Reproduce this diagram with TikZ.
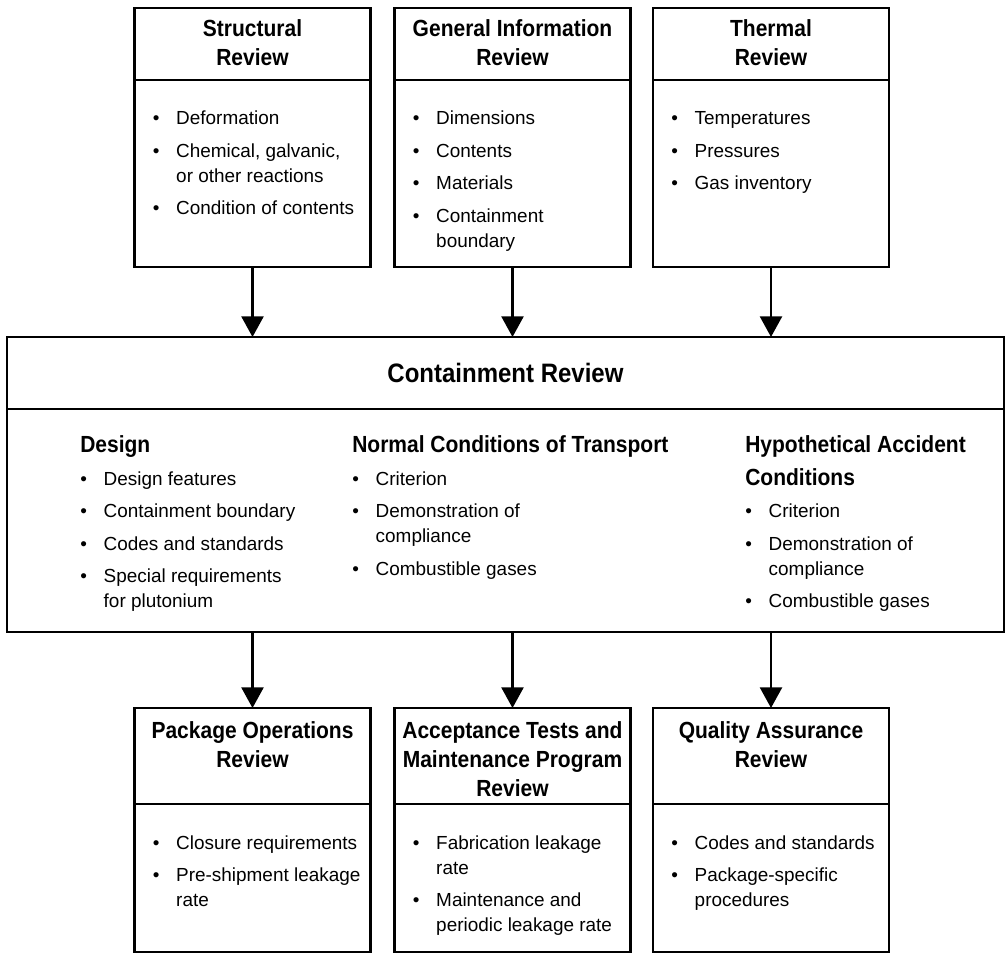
\documentclass[tikz,border=0pt]{standalone}
\usepackage{fontspec}
\setmainfont{Liberation Sans}[BoldFeatures={FakeStretch=0.9}]
\usetikzlibrary{arrows.meta,positioning}

\newcommand{\bodyfont}{\fontsize{14.2}{18.75}\selectfont}
\newcommand{\titlefont}{\bfseries\fontsize{17.5}{21.75}\selectfont}
\newcommand{\bitem}{\makebox[17.6pt][l]{\textbullet}}
\newcommand{\bcont}{\hspace*{17.6pt}}
\newcommand{\bgap}{\\[5.6pt]}
\newcommand{\blist}[1]{\begin{tabular}[t]{@{}l@{}}#1\end{tabular}}
\newcommand{\btitle}[1]{\begin{tabular}[t]{@{}c@{}}#1\end{tabular}}

\begin{document}
\begin{tikzpicture}[x=0.75pt,y=-0.75pt,
	box/.style={draw, line width=1.9pt, minimum width=177pt, inner sep=0pt, outer sep=0pt},
	title/.style={anchor=base, inner sep=0pt, font=\titlefont},
	items/.style={anchor=base west, inner sep=0pt, font=\bodyfont},
	flow/.style={line width=1.9pt, -{Triangle[width=16.5pt,length=15.5pt]}}]
	\useasboundingbox (0,0) rectangle (1007,955);
	
	%top reviews
	\node[box, minimum height=54pt] (struct-head) at (252.5,44) {};
	\node[box, minimum height=140.25pt, below=0pt of struct-head] (struct-body) {};
	\node[box, minimum height=54pt] (info-head) at (512.5,44) {};
	\node[box, minimum height=140.25pt, below=0pt of info-head] (info-body) {};
	\node[box, minimum height=54pt] (therm-head) at (771,44) {};
	\node[box, minimum height=140.25pt, below=0pt of therm-head] (therm-body) {};
	
	\node[title] (struct-title) at (252.5,37) {\btitle{Structural\\Review}};
	\node[title] (info-title) at (512.5,37) {\btitle{General Information\\Review}};
	\node[title] (therm-title) at (771,37) {\btitle{Thermal\\Review}};
	
	\node[items] (struct-list) at (152.5,125) {\blist{\bitem Deformation\bgap
		\bitem Chemical, galvanic,\\
		\bcont or other reactions\bgap
		\bitem Condition of contents}};
	\node[items] (info-list) at (412.5,125) {\blist{\bitem Dimensions\bgap
		\bitem Contents\bgap
		\bitem Materials\bgap
		\bitem Containment\\
		\bcont boundary}};
	\node[items] (therm-list) at (671,125) {\blist{\bitem Temperatures\bgap
		\bitem Pressures\bgap
		\bitem Gas inventory}};
	
	%containment review
	\node[box, minimum width=747.75pt, minimum height=54pt, font=\bfseries\fontsize{20}{24}\selectfont] (contain-head) at (505.5,373) {Containment Review};
	\node[box, minimum width=747.75pt, minimum height=167.25pt, below=0pt of contain-head] (contain-body) {};
	
	\node[items] (design-list) at (80,453) {\blist{{\titlefont Design}\bgap
		\bitem Design features\bgap
		\bitem Containment boundary\bgap
		\bitem Codes and standards\bgap
		\bitem Special requirements\\
		\bcont for plutonium}};
	\node[items] (normal-list) at (352,453) {\blist{{\titlefont Normal Conditions of Transport}\bgap
		\bitem Criterion\bgap
		\bitem Demonstration of\\
		\bcont compliance\bgap
		\bitem Combustible gases}};
	\node[items] (accident-list) at (745,453) {\blist{{\titlefont Hypothetical Accident}\bgap
		{\titlefont Conditions}\bgap
		\bitem Criterion\bgap
		\bitem Demonstration of\\
		\bcont compliance\bgap
		\bitem Combustible gases}};
	
	%bottom reviews
	\node[box, minimum height=72pt] (oper-head) at (252.5,756) {};
	\node[box, minimum height=111pt, below=0pt of oper-head] (oper-body) {};
	\node[box, minimum height=72pt] (accept-head) at (512.5,756) {};
	\node[box, minimum height=111pt, below=0pt of accept-head] (accept-body) {};
	\node[box, minimum height=72pt] (qa-head) at (771,756) {};
	\node[box, minimum height=111pt, below=0pt of qa-head] (qa-body) {};
	
	\node[title] (oper-title) at (252.5,738) {\btitle{Package Operations\\Review}};
	\node[title] (accept-title) at (512.5,738) {\btitle{Acceptance Tests and\\Maintenance Program\\Review}};
	\node[title] (qa-title) at (771,738) {\btitle{Quality Assurance\\Review}};
	
	\node[items] (oper-list) at (152.5,849) {\blist{\bitem Closure requirements\bgap
		\bitem Pre-shipment leakage\\
		\bcont rate}};
	\node[items] (accept-list) at (412.5,849) {\blist{\bitem Fabrication leakage\\
		\bcont rate\bgap
		\bitem Maintenance and\\
		\bcont periodic leakage rate}};
	\node[items] (qa-list) at (671,849) {\blist{\bitem Codes and standards\bgap
		\bitem Package-specific\\
		\bcont procedures}};
	
	%arrows
	\draw[flow] (struct-body) -- (struct-body |- contain-head.north);
	\draw[flow] (info-body) -- (info-body |- contain-head.north);
	\draw[flow] (therm-body) -- (therm-body |- contain-head.north);
	\draw[flow] (oper-head.north |- contain-body.south) -- (oper-head);
	\draw[flow] (accept-head.north |- contain-body.south) -- (accept-head);
	\draw[flow] (qa-head.north |- contain-body.south) -- (qa-head);
\end{tikzpicture}
\end{document}
